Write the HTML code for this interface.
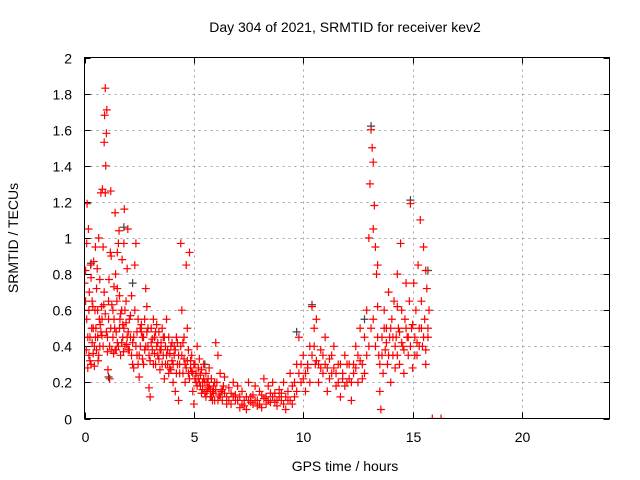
<!DOCTYPE html>
<html><head><meta charset="utf-8"><style>
html,body{margin:0;padding:0;background:#fff}
svg{display:block;font-family:"Liberation Sans",sans-serif}
</style></head><body>
<svg id="chart" width="640" height="480" viewBox="0 0 640 480" xmlns="http://www.w3.org/2000/svg">
<rect width="640" height="480" fill="#fff"/>
<text x="345" y="32" font-size="14" text-anchor="middle">Day 304 of 2021, SRMTID for receiver kev2</text>
<text transform="translate(18,238) rotate(-90)" font-size="14" text-anchor="middle">SRMTID / TECUs</text>
<text x="345" y="471" font-size="14" text-anchor="middle">GPS time / hours</text>
<g id="grid"></g>
<g id="ticks"></g>
<svg x="84" y="57" width="526" height="362" overflow="hidden"><g id="marks" transform="translate(-84,-57)"></g></svg>
<rect x="84.5" y="57.5" width="525" height="361" fill="none" stroke="#000" stroke-width="1"/>
</svg>
<script>
const xTicks = [0,5,10,15,20];
const yTicks = [0,0.2,0.4,0.6,0.8,1,1.2,1.4,1.6,1.8,2];
const yTickLabels = ["0","0.2","0.4","0.6","0.8","1","1.2","1.4","1.6","1.8","2"];
const darkSamples = [[0.3,0.86],[1.1,0.23],[1.8,1.06],[10.4,0.63],[13.1,1.62],[14.9,1.21],[15.7,0.82],[12.8,0.55],[9.7,0.48],[2.2,0.75],[5.5,0.3]];
const redSamples = [
[0,0.75],[0.05,0.65],[0.05,0.82],[0.08,0.38],[0.1,0.97],[0.12,1.19],[0.15,0.28],[0.18,1.05],[0.2,0.35],[0.22,0.7],[0.25,0.45],[0.28,0.85],[0.3,0.3],[0.33,0.5],[0.35,0.42],[0.38,0.62],[0.4,0.36],[0.42,0.87],[0.45,0.29],[0.48,0.6],[0.5,0.95],[0.52,0.5],[0.55,0.38],[0.58,0.83],[0.6,0.45],[0.62,0.32],[0.65,1.0],[0.68,0.55],[0.7,0.77],[0.72,0.52],[0.75,1.25],[0.78,0.62],[0.8,0.46],[0.82,1.27],[0.85,0.95],[0.88,0.63],[0.9,1.53],[0.92,1.68],[0.95,1.83],[0.97,1.4],[1.0,1.58],[1.02,1.71],[1.05,0.37],[1.07,0.27],[1.1,0.55],[1.12,0.77],[1.15,0.22],[1.18,0.92],[1.2,1.26],[1.22,0.9],[1.25,0.63],[1.3,0.45],[1.33,0.36],[1.35,0.73],[1.38,0.5],[1.4,1.14],[1.42,0.8],[1.45,0.38],[1.48,0.65],[1.5,0.42],[1.55,0.97],[1.58,1.04],[1.6,0.5],[1.62,0.55],[1.65,0.35],[1.7,0.6],[1.72,0.88],[1.75,0.45],[1.78,0.37],[1.8,0.97],[1.82,1.16],[1.85,0.6],[1.9,0.53],[1.93,0.41],[1.95,0.83],[1.98,1.05],[2.0,0.48],[2.05,0.38],[2.1,0.57],[2.15,0.68],[2.2,0.3],[2.25,0.45],[2.3,0.85],[2.35,0.97],[2.4,0.35],[2.45,0.55],[2.5,0.23],[2.55,0.4],[2.6,0.48],[2.65,0.33],[2.7,0.3],[2.75,0.55],[2.8,0.72],[2.85,0.62],[2.9,0.4],[2.95,0.17],[3.0,0.12],[3.05,0.5],[3.1,0.38],[3.15,0.55],[3.2,0.45],[3.25,0.3],[3.3,0.52],[3.35,0.35],[3.4,0.48],[3.45,0.27],[3.5,0.42],[3.55,0.5],[3.6,0.35],[3.65,0.22],[3.7,0.4],[3.75,0.55],[3.8,0.3],[3.85,0.45],[3.9,0.36],[3.95,0.27],[4.0,0.42],[4.05,0.2],[4.1,0.35],[4.15,0.15],[4.2,0.45],[4.25,0.3],[4.3,0.1],[4.35,0.25],[4.4,0.97],[4.45,0.6],[4.5,0.42],[4.55,0.33],[4.6,0.2],[4.65,0.85],[4.7,0.5],[4.75,0.38],[4.8,0.92],[4.85,0.28],[4.9,0.35],[4.95,0.15],[5.0,0.08],[5.05,0.3],[5.1,0.25],[5.15,0.4],[5.2,0.22],[5.25,0.33],[5.3,0.18],[5.35,0.27],[5.4,0.2],[5.45,0.3],[5.5,0.14],[5.55,0.25],[5.6,0.2],[5.65,0.17],[5.7,0.28],[5.75,0.12],[5.8,0.22],[5.85,0.15],[5.9,0.18],[5.95,0.1],[6.0,0.42],[6.05,0.2],[6.1,0.35],[6.15,0.13],[6.2,0.25],[6.25,0.15],[6.3,0.1],[6.35,0.18],[6.4,0.23],[6.5,0.12],[6.6,0.17],[6.7,0.08],[6.8,0.2],[6.9,0.13],[7.0,0.18],[7.1,0.06],[7.2,0.15],[7.3,0.1],[7.4,0.05],[7.5,0.2],[7.6,0.12],[7.7,0.08],[7.8,0.18],[7.9,0.1],[8.0,0.15],[8.1,0.06],[8.2,0.22],[8.3,0.12],[8.4,0.18],[8.5,0.09],[8.6,0.2],[8.7,0.14],[8.8,0.07],[8.9,0.16],[9.0,0.1],[9.1,0.2],[9.2,0.05],[9.3,0.15],[9.4,0.25],[9.5,0.08],[9.6,0.12],[9.7,0.3],[9.8,0.45],[9.9,0.2],[10.0,0.35],[10.1,0.15],[10.2,0.28],[10.3,0.4],[10.4,0.62],[10.5,0.5],[10.55,0.3],[10.6,0.55],[10.7,0.2],[10.8,0.38],[10.9,0.25],[11.0,0.45],[11.1,0.15],[11.2,0.33],[11.3,0.25],[11.4,0.4],[11.5,0.18],[11.6,0.3],[11.7,0.12],[11.8,0.25],[11.9,0.35],[12.0,0.2],[12.1,0.3],[12.2,0.1],[12.3,0.25],[12.4,0.4],[12.5,0.2],[12.6,0.5],[12.7,0.3],[12.8,0.45],[12.9,0.6],[13.0,1.0],[13.05,1.3],[13.1,1.6],[13.15,1.5],[13.2,1.42],[13.25,1.18],[13.3,0.95],[13.35,0.8],[13.4,0.62],[13.45,0.35],[13.5,0.15],[13.55,0.05],[13.6,0.45],[13.65,0.25],[13.7,0.6],[13.75,0.38],[13.8,0.5],[13.85,0.3],[13.9,0.7],[13.95,0.45],[14.0,0.2],[14.05,0.55],[14.1,0.35],[14.15,0.65],[14.2,0.28],[14.25,0.45],[14.3,0.8],[14.35,0.5],[14.4,0.3],[14.45,0.97],[14.5,0.6],[14.55,0.4],[14.6,0.25],[14.65,0.55],[14.7,0.75],[14.75,0.45],[14.8,0.35],[14.85,0.65],[14.9,1.19],[14.95,0.5],[15.0,0.28],[15.05,0.75],[15.1,0.45],[15.15,0.6],[15.2,0.35],[15.25,0.85],[15.3,0.5],[15.35,1.1],[15.4,0.65],[15.45,0.4],[15.5,0.95],[15.55,0.55],[15.6,0.3],[15.65,0.72],[15.7,0.45],[15.75,0.6],[15.9,0],[16.3,0],
[0.1,0.55],[0.2,0.6],[0.3,0.78],[0.4,0.5],[0.5,0.45],[0.6,0.6],[0.7,0.4],[0.8,0.55],[0.9,0.7],[1.0,0.48],[1.1,0.65],[1.2,0.5],[1.3,0.6],[1.4,0.38],[1.5,0.72],[1.6,0.68],[1.7,0.42],[1.8,0.5],[1.9,0.65],[2.0,0.38],[2.1,0.45],[2.2,0.42],[2.3,0.6],[2.4,0.48],[2.5,0.35],[2.6,0.52],[2.7,0.45],[2.8,0.4],[2.9,0.5],[3.0,0.32],[3.1,0.44],[3.2,0.36],[3.3,0.4],[3.4,0.33],[3.5,0.38],[3.6,0.45],[3.7,0.3],[3.8,0.38],[3.9,0.28],[4.0,0.32],[4.1,0.4],[4.2,0.25],[4.3,0.35],[4.4,0.4],[4.5,0.25],[4.6,0.3],[4.7,0.32],[4.8,0.22],[4.9,0.26],[5.0,0.3],[5.1,0.2],[5.2,0.28],[5.3,0.24],[5.4,0.16],[5.5,0.2],[5.6,0.15],[5.7,0.18],[5.8,0.12],[5.9,0.14],[6.0,0.16],[6.2,0.12],[6.4,0.14],[6.6,0.1],[6.8,0.12],[7.0,0.1],[7.2,0.08],[7.4,0.12],[7.6,0.09],[7.8,0.1],[8.0,0.08],[8.2,0.11],[8.4,0.1],[8.6,0.12],[8.8,0.1],[9.0,0.14],[9.2,0.12],[9.4,0.1],[9.6,0.2],[9.8,0.25],[10.0,0.22],[10.2,0.3],[10.4,0.35],[10.6,0.32],[10.8,0.28],[11.0,0.3],[11.2,0.22],[11.4,0.28],[11.6,0.2],[11.8,0.22],[12.0,0.3],[12.2,0.2],[12.4,0.28],[12.6,0.32],[12.8,0.25],[13.0,0.4],[13.2,0.55],[13.4,0.45],[13.6,0.35],[13.8,0.42],[14.0,0.5],[14.2,0.4],[14.4,0.48],[14.6,0.38],[14.8,0.45],[15.0,0.52],[15.2,0.42],[15.4,0.5],[15.6,0.38],
[0.15,0.45],[0.25,0.32],[0.35,0.65],[0.45,0.4],[0.55,0.72],[0.65,0.35],[0.75,0.48],[0.85,0.4],[0.95,0.58],[1.05,0.45],[1.15,0.4],[1.25,0.38],[1.35,0.55],[1.45,0.48],[1.55,0.4],[1.65,0.58],[1.75,0.52],[1.85,0.4],[1.95,0.45],[2.05,0.55],[2.15,0.35],[2.25,0.28],[2.35,0.4],[2.45,0.3],[2.55,0.5],[2.65,0.45],[2.75,0.38],[2.85,0.48],[2.95,0.35],[3.05,0.42],[3.15,0.3],[3.25,0.48],[3.35,0.42],[3.45,0.38],[3.55,0.3],[3.65,0.45],[3.75,0.35],[3.85,0.25],[3.95,0.4],[4.05,0.3],[4.15,0.38],[4.25,0.42],[4.35,0.3],[4.45,0.35],[4.55,0.45],[4.65,0.28],[4.75,0.25],[4.85,0.32],[4.95,0.25],[5.05,0.22],[5.15,0.18],[5.25,0.2],[5.35,0.14],[5.45,0.22],[5.55,0.12],[5.65,0.22],[5.75,0.16],[5.85,0.1],[5.95,0.2],[6.1,0.1],[6.3,0.16],[6.5,0.08],[6.7,0.14],[6.9,0.1],[7.1,0.12],[7.3,0.07],[7.5,0.1],[7.7,0.13],[7.9,0.07],[8.1,0.13],[8.3,0.08],[8.5,0.14],[8.7,0.09],[8.9,0.12],[9.1,0.08],[9.3,0.1],[9.5,0.18],[9.7,0.15],[9.9,0.3],[10.1,0.25],[10.3,0.2],[10.5,0.4],[10.7,0.3],[10.9,0.35],[11.1,0.28],[11.3,0.35],[11.5,0.25],[11.7,0.3],[11.9,0.18],[12.1,0.22],[12.3,0.3],[12.5,0.35],[12.7,0.22],[12.9,0.35],[13.1,0.5],[13.3,0.4],[13.5,0.3],[13.7,0.5],[13.9,0.35],[14.1,0.45],[14.3,0.35],[14.5,0.42],[14.7,0.5],[14.9,0.4],[15.1,0.35],[15.3,0.4],[15.5,0.45],[15.7,0.5],
[0.95,1.25],[1.5,0.92],[13.2,1.05],[13.4,0.85],[15.6,0.82],[14.3,0.62]
];
const NS='http://www.w3.org/2000/svg';
const X0=84.5,X1=609.5,Y0=418.5,Y1=57.5,XMAX=24,YMAX=2;
function sx(v){return X0+(X1-X0)*v/XMAX;}
function sy(v){return Y0-(Y0-Y1)*v/YMAX;}
function mk(tag,attrs,parent){const e=document.createElementNS(NS,tag);for(const k in attrs)e.setAttribute(k,attrs[k]);parent.appendChild(e);return e;}
const grid=document.getElementById('grid'),ticks=document.getElementById('ticks'),marks=document.getElementById('marks');
xTicks.forEach(function(t){
  const x=Math.round(sx(t))+0.5;
  if(t>0){const g=mk('line',{x1:x,x2:x,y1:Y1,y2:Y0,stroke:'#a0a0a0','stroke-dasharray':'2,4'},grid);
  
  }
  mk('line',{x1:x,x2:x,y1:Y0,y2:Y0-6,stroke:'#000'},ticks);
  mk('line',{x1:x,x2:x,y1:Y1,y2:Y1+6,stroke:'#000'},ticks);
  const l=mk('text',{x:x,y:442,'font-size':14,'text-anchor':'middle'},ticks);
  l.textContent=String(t);
  
  
});
yTicks.forEach(function(t,i){
  const y=Math.round(sy(t))+0.5;
  if(t>0&&t<YMAX){const g=mk('line',{x1:X0,x2:X1,y1:y,y2:y,stroke:'#a0a0a0','stroke-dasharray':'2,4'},grid);
  
  }
  mk('line',{x1:X0,x2:X0+6,y1:y,y2:y,stroke:'#000'},ticks);
  mk('line',{x1:X1,x2:X1-6,y1:y,y2:y,stroke:'#000'},ticks);
  const l=mk('text',{x:72,y:y+5,'font-size':14,'text-anchor':'end'},ticks);
  l.textContent=yTickLabels[i];
  
  
});
function plus(p,color){
  const x=sx(p[0]),y=sy(p[1]);
  const e=mk('path',{d:'M'+(x-4)+' '+y+'H'+(x+4)+'M'+x+' '+(y-4)+'V'+(y+4),stroke:color,'stroke-width':1.2,fill:'none'},marks);
  return e;
}
darkSamples.forEach(function(p){
  const e=plus(p,'#404040');
  
  
});
redSamples.forEach(function(p){
  const e=plus(p,'#ff0000');
  
  
});
</script>
</body></html>
